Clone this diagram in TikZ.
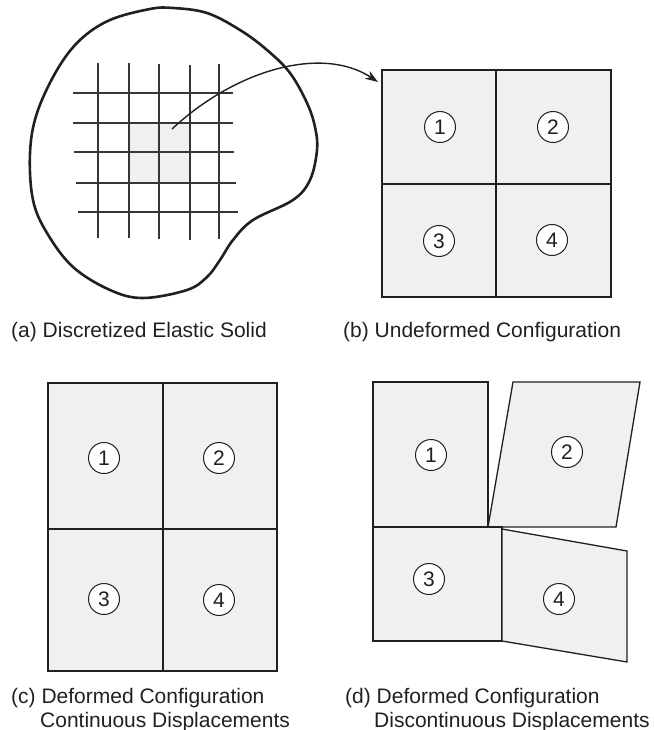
\documentclass[tikz,border=0pt]{standalone}
\usepackage{fontspec}
\setmainfont{Liberation Sans}
\usetikzlibrary{arrows.meta}
\definecolor{cellfill}{HTML}{EFF0F2}
\definecolor{ink}{HTML}{231F20}
\tikzset{
  blob/.style={draw=ink, line width=2.6pt},
  gridline/.style={draw=ink!90, line width=1.9pt},
  cellbox/.style={draw=ink, fill=cellfill, line width=1.3pt, line join=miter},
  num/.style={circle, draw=ink, line width=1pt, fill=white, minimum size=31pt, inner sep=0pt,
    text=ink, font=\fontsize{21}{24}\selectfont},
  captext/.style={anchor=base west, inner sep=0pt, text=ink, font=\fontsize{21}{24}\selectfont},
  pointer/.style={draw=ink, line width=1.4pt, -{Stealth[length=13pt,width=9pt]}}
}
\begin{document}
\begin{tikzpicture}[x=1pt,y=-1pt]
\useasboundingbox (0,0) rectangle (653,730);

% ---------- (a) discretized elastic solid ----------
\fill[cellfill] (129,123) rectangle (190,183);
\draw[blob] plot[smooth cycle, tension=0.6] coordinates {
  (173,8) (207,13) (240,30) (267,50) (290,73) (307,103) (315,127) (317,150)
  (310,180) (293,200) (253,220) (233,240) (220,260) (207,277) (187,290)
  (143,298) (110,290) (73,267) (47,233) (33,200) (30,153) (37,113)
  (57,70) (80,40) (110,20) (150,9)};
\foreach \x/\a/\b in {98/63/238, 129/63/238, 159/64/239, 190/65/240, 219/64/239}
  \draw[gridline] (\x,\a) -- (\x,\b);
\foreach \y/\a/\b in {93/73/233, 123/73/233, 152/74/234, 183/76/236, 212/78/238}
  \draw[gridline] (\a,\y) -- (\b,\y);
\coordinate (src) at (172,129);
\coordinate (dst) at (378,82);

% ---------- (b) undeformed configuration ----------
\draw[cellbox] (382,70) rectangle (496,184);
\draw[cellbox] (496,70) rectangle (611,184);
\draw[cellbox] (382,184) rectangle (496,297);
\draw[cellbox] (496,184) rectangle (611,297);
\node[num] (b1) at (440,127) {1};
\node[num] (b2) at (553,127) {2};
\node[num] (b3) at (439,241) {3};
\node[num] (b4) at (552,240) {4};

\draw[pointer] (src) .. controls (235,70) and (322,45) .. (dst);

\node[captext] (capa) at (11,337) {(a) Discretized Elastic Solid};
\node[captext] (capb) at (343,337) {(b) Undeformed Configuration};

% ---------- (c) continuous displacements ----------
\draw[cellbox] (48,383) rectangle (163,529);
\draw[cellbox] (163,383) rectangle (277,529);
\draw[cellbox] (48,529) rectangle (163,671);
\draw[cellbox] (163,529) rectangle (277,671);
\node[num] (c1) at (104,458) {1};
\node[num] (c2) at (219,458) {2};
\node[num] (c3) at (104,599) {3};
\node[num] (c4) at (219,600) {4};
\node[captext] (capc1) at (11,703) {(c) Deformed Configuration};
\node[captext] (capc2) at (40,727) {Continuous Displacements};

% ---------- (d) discontinuous displacements ----------
\draw[cellbox] (373,382) -- (488,382) -- (488,527) -- (373,527) -- cycle;
\draw[cellbox] (513,382) -- (640,382) -- (616,527) -- (488,527) -- cycle;
\draw[cellbox] (373,527) -- (502,527) -- (502,641) -- (373,641) -- cycle;
\draw[cellbox] (502,529) -- (627,551) -- (627,662) -- (502,641) -- cycle;
\node[num] (d1) at (431,455) {1};
\node[num] (d2) at (567,452) {2};
\node[num] (d3) at (429,579) {3};
\node[num] (d4) at (559,599) {4};
\node[captext] (capd1) at (345,703) {(d) Deformed Configuration};
\node[captext] (capd2) at (374,727) {Discontinuous Displacements};
\end{tikzpicture}
\end{document}
